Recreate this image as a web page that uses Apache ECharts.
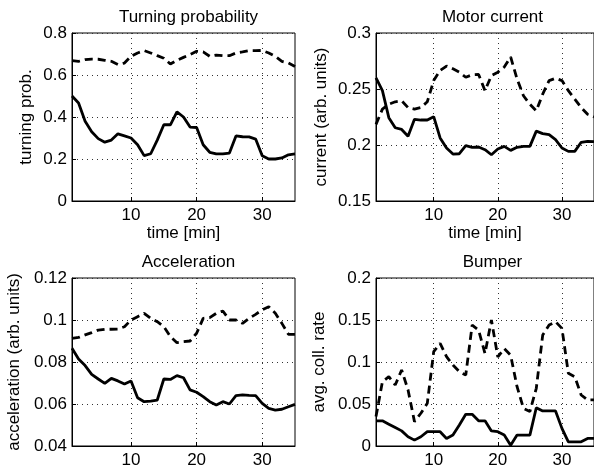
<!DOCTYPE html>
<html>
<head>
<meta charset="utf-8">
<script src="https://cdn.jsdelivr.net/npm/echarts@6/dist/echarts.min.js"></script>
<style>
html,body{margin:0;padding:0;background:#fff;}
#chart{width:594px;height:473px;}
</style>
</head>
<body>
<div id="chart"></div>
<script>
const minutes = [1,2,3,4,5,6,7,8,9,10,11,12,13,14,15,16,17,18,19,20,21,22,23,24,25,26,27,28,29,30,31,32,33,34,35];
const xTicks = [10,20,30];

const turnSolid = [0.50,0.467,0.38,0.33,0.297,0.28,0.29,0.32,0.31,0.30,0.268,0.216,0.225,0.29,0.363,0.363,0.424,0.40,0.352,0.35,0.268,0.232,0.224,0.224,0.228,0.31,0.306,0.305,0.295,0.216,0.20,0.20,0.205,0.22,0.224];
const turnDashed = [0.668,0.665,0.673,0.676,0.675,0.67,0.665,0.65,0.657,0.689,0.705,0.716,0.705,0.692,0.68,0.652,0.67,0.684,0.697,0.713,0.71,0.689,0.695,0.692,0.692,0.705,0.71,0.716,0.716,0.717,0.705,0.689,0.665,0.657,0.641];

const currSolid = [0.26,0.2485,0.2244,0.2154,0.2139,0.2078,0.2229,0.2223,0.2223,0.2253,0.2063,0.1973,0.1919,0.1922,0.1994,0.1979,0.1982,0.1958,0.1913,0.1964,0.1988,0.1952,0.1979,0.1988,0.1988,0.2124,0.2102,0.2093,0.2048,0.1973,0.1943,0.1943,0.2024,0.2033,0.203];
const currDashed = [0.2184,0.232,0.2364,0.2386,0.2395,0.2334,0.232,0.2334,0.2386,0.2575,0.2666,0.2705,0.268,0.265,0.2605,0.2627,0.263,0.2485,0.262,0.265,0.2696,0.2786,0.259,0.244,0.2364,0.2304,0.2455,0.2575,0.2596,0.2575,0.2485,0.241,0.2334,0.2274,0.225];

const accSolid = [0.0865,0.0814,0.0783,0.0741,0.0719,0.0698,0.0722,0.071,0.0695,0.071,0.063,0.0611,0.0614,0.0619,0.0719,0.0717,0.0735,0.0725,0.0667,0.0656,0.0635,0.0611,0.0595,0.0611,0.060,0.064,0.0643,0.0641,0.064,0.0603,0.0579,0.0571,0.0575,0.0587,0.0598];
const accDashed = [0.0913,0.0917,0.0929,0.094,0.0952,0.0956,0.0956,0.0957,0.0968,0.100,0.1016,0.1032,0.1008,0.0992,0.0968,0.0921,0.0892,0.0897,0.090,0.0937,0.1008,0.1011,0.1032,0.1043,0.100,0.100,0.0984,0.1008,0.1027,0.1048,0.1063,0.1032,0.0984,0.0932,0.0932];

const bumpSolid = [0.0298,0.030,0.026,0.022,0.018,0.011,0.007,0.011,0.017,0.017,0.017,0.009,0.013,0.025,0.0377,0.0377,0.030,0.030,0.018,0.017,0.013,0.001,0.013,0.013,0.013,0.0456,0.0417,0.0417,0.0417,0.021,0.005,0.005,0.005,0.009,0.009];
const bumpDashed = [0.035,0.0766,0.0825,0.0726,0.0905,0.0667,0.029,0.039,0.0508,0.1123,0.1222,0.1063,0.0964,0.0885,0.0845,0.144,0.138,0.110,0.150,0.106,0.116,0.108,0.0706,0.0448,0.041,0.0687,0.132,0.144,0.148,0.140,0.0865,0.0825,0.0607,0.0548,0.055];

const titles = ['Turning probability','Motor current','Acceleration','Bumper'];
const yNames = ['turning prob.','current (arb. units)','acceleration (arb. units)','avg. coll. rate'];
const yMins = [0,0.15,0.04,0];
const yMaxs = [0.8,0.3,0.12,0.2];
const yIntervals = [0.2,0.05,0.02,0.05];
const xNames = ['time [min]','time [min]','',''];
const solids = [turnSolid,currSolid,accSolid,bumpSolid];
const dashes = [turnDashed,currDashed,accDashed,bumpDashed];

const FONT = '"Liberation Sans", Arial, Helvetica, sans-serif';
const grids = [
  {left:72, top:33, width:223, height:168},
  {left:376, top:33, width:223.5, height:168},
  {left:72, top:278, width:223, height:168},
  {left:376, top:278, width:223.5, height:168}
];
const yGaps = [37,46,49,48];

const pair = (arr) => minutes.map((m,i)=>[m,arr[i]]);
const gridLine = {show:true,lineStyle:{color:'#333',width:1,type:[1,4]}};

const option = {
  backgroundColor:'#fff',
  animation:false,
  title: grids.map((g,i)=>({
    text: titles[i],
    left: g.left + 223/2,
    top: i<2 ? 4 : 249,
    textAlign:'center',
    textStyle:{fontFamily:FONT,fontSize:17,fontWeight:'normal',color:'#000'}
  })),
  grid: grids.map(g=>Object.assign({show:true,borderColor:'#000',borderWidth:1,backgroundColor:'transparent',containLabel:false},g)),
  xAxis: grids.map((g,i)=>({
    type:'value', gridIndex:i, min:1, max:35,
    name: xNames[i], nameLocation:'middle', nameGap:18,
    nameTextStyle:{fontFamily:FONT,fontSize:17,color:'#000'},
    axisLine:{show:true,lineStyle:{color:'#000',width:1}},
    axisTick:{show:true,inside:true,length:4,customValues:xTicks,lineStyle:{color:'#000'}},
    axisLabel:{show:true,customValues:xTicks,margin:6,fontFamily:FONT,fontSize:17,color:'#000'},
    splitLine:gridLine
  })),
  yAxis: grids.map((g,i)=>({
    type:'value', gridIndex:i, min:yMins[i], max:yMaxs[i], interval:yIntervals[i],
    name: yNames[i], nameLocation:'middle', nameGap:yGaps[i], nameRotate:90,
    nameTextStyle:{fontFamily:FONT,fontSize:17,color:'#000'},
    axisLine:{show:true,lineStyle:{color:'#000',width:1}},
    axisTick:{show:true,inside:true,length:4,lineStyle:{color:'#000'}},
    axisLabel:{margin:5,fontFamily:FONT,fontSize:17,color:'#000',formatter:(v)=>String(+v.toFixed(4))},
    splitLine:gridLine
  })),
  series: []
};
for (let i=0;i<4;i++){
  option.series.push({type:'line',xAxisIndex:i,yAxisIndex:i,data:pair(dashes[i]),showSymbol:false,
    lineStyle:{color:'#000',width:2.8,type:[8,5]},z:3});
  option.series.push({type:'line',xAxisIndex:i,yAxisIndex:i,data:pair(solids[i]),showSymbol:false,
    lineStyle:{color:'#000',width:2.8,type:'solid'},z:4});
}
const chart = echarts.init(document.getElementById('chart'),null,{renderer:'canvas'});
chart.setOption(option);
</script>
</body>
</html>
